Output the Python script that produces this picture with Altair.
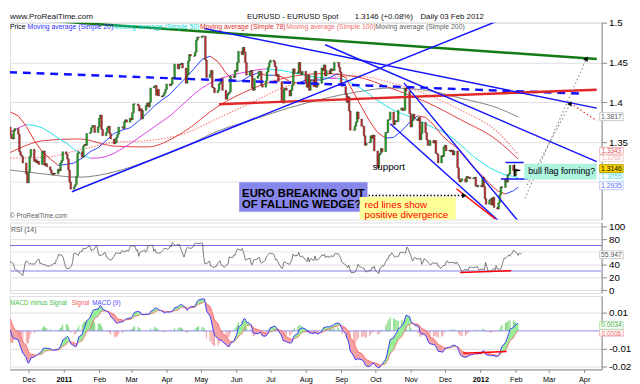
import altair as alt
import numpy as np
import pandas as pd

FONT = "Liberation Sans"

# ---------------- daily closes, Mon..Fri for each week ----------------
# weeks before the visible window (used only so the indicators are warmed up)
warmup_closes = [
    [1.2990, 1.3090, 1.3030, 1.3060, 1.3050],  # 2010-09-13
    [1.3070, 1.3240, 1.3370, 1.3310, 1.3490],
    [1.3470, 1.3570, 1.3620, 1.3630, 1.3790],
    [1.3680, 1.3830, 1.3920, 1.3930, 1.3950],
    [1.3910, 1.3930, 1.3960, 1.4090, 1.3960],
    [1.3960, 1.3740, 1.3950, 1.3950, 1.3960],
    [1.3920, 1.3840, 1.3790, 1.3920, 1.3940],
    [1.3930, 1.4020, 1.4100, 1.4190, 1.4030],
    [1.3910, 1.3800, 1.3780, 1.3740, 1.3690],
]
# weeks from 2010-11-15 to 2012-02-03
weekly_closes = [
    [1.3600, 1.3550, 1.3540, 1.3640, 1.3670],
    [1.3600, 1.3380, 1.3340, 1.3320, 1.3240],
    [1.3100, 1.2990, 1.3130, 1.3320, 1.3410],
    [1.3260, 1.3280, 1.3240, 1.3260, 1.3220],
    [1.3380, 1.3390, 1.3210, 1.3230, 1.3190],
    [1.3150, 1.3110, 1.3090, 1.3110, 1.3100],
    [1.3160, 1.3140, 1.3240, 1.3270, 1.3380],
    [1.3350, 1.3290, 1.3150, 1.3000, 1.2910],
    [1.2940, 1.2970, 1.3070, 1.3360, 1.3380],
    [1.3310, 1.3450, 1.3470, 1.3460, 1.3610],
    [1.3620, 1.3680, 1.3710, 1.3710, 1.3620],
    [1.3690, 1.3800, 1.3840, 1.3660, 1.3580],
    [1.3620, 1.3680, 1.3700, 1.3610, 1.3540],
    [1.3480, 1.3500, 1.3560, 1.3600, 1.3690],
    [1.3690, 1.3670, 1.3760, 1.3780, 1.3750],
    [1.3800, 1.3780, 1.3870, 1.3980, 1.3980],
    [1.3960, 1.3890, 1.3920, 1.3790, 1.3900],
    [1.3960, 1.3990, 1.3940, 1.4000, 1.4180],
    [1.4200, 1.4210, 1.4090, 1.4160, 1.4080],
    [1.4070, 1.4090, 1.4120, 1.4160, 1.4230],
    [1.4210, 1.4230, 1.4310, 1.4300, 1.4480],
    [1.4420, 1.4470, 1.4480, 1.4490, 1.4430],
    [1.4240, 1.4350, 1.4520, 1.4600, 1.4580],
    [1.4580, 1.4630, 1.4780, 1.4820, 1.4810],
    [1.4830, 1.4830, 1.4830, 1.4530, 1.4310],
    [1.4350, 1.4400, 1.4190, 1.4180, 1.4120],
    [1.4150, 1.4230, 1.4250, 1.4300, 1.4150],
    [1.4040, 1.4090, 1.4110, 1.4130, 1.4330],
    [1.4310, 1.4400, 1.4390, 1.4500, 1.4640],
    [1.4600, 1.4690, 1.4630, 1.4500, 1.4340],
    [1.4390, 1.4400, 1.4180, 1.4150, 1.4300],
    [1.4330, 1.4390, 1.4390, 1.4220, 1.4190],
    [1.4270, 1.4380, 1.4440, 1.4500, 1.4530],
    [1.4510, 1.4450, 1.4330, 1.4350, 1.4260],
    [1.4000, 1.3990, 1.4170, 1.4180, 1.4150],
    [1.4080, 1.4150, 1.4210, 1.4420, 1.4360],
    [1.4380, 1.4500, 1.4370, 1.4350, 1.4390],
    [1.4240, 1.4190, 1.4340, 1.4150, 1.4280],
    [1.4200, 1.4390, 1.4190, 1.4220, 1.4240],
    [1.4430, 1.4400, 1.4470, 1.4330, 1.4400],
    [1.4360, 1.4420, 1.4400, 1.4400, 1.4500],
    [1.4500, 1.4440, 1.4380, 1.4240, 1.4200],
    [1.4100, 1.4000, 1.4070, 1.3890, 1.3650],
    [1.3650, 1.3700, 1.3750, 1.3880, 1.3790],
    [1.3700, 1.3700, 1.3580, 1.3460, 1.3490],
    [1.3500, 1.3580, 1.3550, 1.3590, 1.3390],
    [1.3180, 1.3340, 1.3360, 1.3420, 1.3380],
    [1.3620, 1.3620, 1.3780, 1.3780, 1.3880],
    [1.3720, 1.3770, 1.3760, 1.3760, 1.3900],
    [1.3930, 1.3900, 1.3900, 1.4180, 1.4140],
    [1.3860, 1.3690, 1.3770, 1.3850, 1.3790],
    [1.3770, 1.3810, 1.3530, 1.3610, 1.3750],
    [1.3620, 1.3530, 1.3460, 1.3460, 1.3520],
    [1.3490, 1.3520, 1.3360, 1.3350, 1.3240],
    [1.3330, 1.3320, 1.3440, 1.3460, 1.3390],
    [1.3400, 1.3380, 1.3400, 1.3340, 1.3390],
    [1.3180, 1.3040, 1.3000, 1.3020, 1.3040],
    [1.3000, 1.3070, 1.3050, 1.3060, 1.3040],
    [1.3050, 1.3060, 1.2950, 1.2940, 1.2960],
    [1.2940, 1.3060, 1.2940, 1.2790, 1.2720],
    [1.2770, 1.2790, 1.2710, 1.2810, 1.2680],
    [1.2660, 1.2740, 1.2840, 1.2940, 1.2930],
    [1.3040, 1.3000, 1.3090, 1.3100, 1.3210],
    [1.3140, 1.3080, 1.3160, 1.3140, 1.3146],
]

# ---------------- moving averages (weekly, Mondays + last day) ----------------
sma20_weekly = [
    1.388, 1.383, 1.370, 1.352, 1.338, 1.329, 1.321, 1.322, 1.324, 1.330,
    1.338, 1.343, 1.352, 1.361, 1.365, 1.368, 1.376, 1.385, 1.395, 1.403,
    1.410, 1.421, 1.431, 1.442, 1.454, 1.458, 1.451, 1.437, 1.426, 1.427,
    1.433, 1.437, 1.434, 1.434, 1.432, 1.426, 1.424, 1.428, 1.428, 1.428,
    1.431, 1.436, 1.431, 1.412, 1.394, 1.376, 1.362, 1.355, 1.356, 1.364,
    1.375, 1.383, 1.381, 1.372, 1.359, 1.350, 1.342, 1.330, 1.318, 1.309,
    1.298, 1.289, 1.285, 1.289, 1.2935,
]
sma50_weekly = [
    1.363, 1.368, 1.372, 1.371, 1.368, 1.362, 1.355, 1.349, 1.341, 1.334,
    1.330, 1.330, 1.332, 1.336, 1.342, 1.348, 1.355, 1.362, 1.369, 1.376,
    1.383, 1.392, 1.401, 1.410, 1.418, 1.424, 1.429, 1.432, 1.435, 1.437,
    1.439, 1.441, 1.442, 1.441, 1.440, 1.438, 1.436, 1.434, 1.432, 1.431,
    1.430, 1.430, 1.428, 1.423, 1.417, 1.410, 1.402, 1.396, 1.390, 1.386,
    1.382, 1.378, 1.373, 1.368, 1.364, 1.358, 1.350, 1.341, 1.332, 1.325,
    1.318, 1.313, 1.309, 1.307, 1.3055,
]
# monthly readings of the slower averages
ma_month_dates = ["2010-11-15", "2010-12-15", "2011-01-14", "2011-02-15", "2011-03-15",
                  "2011-04-15", "2011-05-16", "2011-06-15", "2011-07-15", "2011-08-15",
                  "2011-09-15", "2011-10-14", "2011-11-15", "2011-12-15", "2012-01-16",
                  "2012-02-03"]
sma78_monthly = [1.337, 1.352, 1.354, 1.345, 1.344, 1.362, 1.395, 1.417, 1.431, 1.436,
                 1.432, 1.418, 1.400, 1.378, 1.352, 1.3288]
sma100_monthly = [1.330, 1.331, 1.340, 1.350, 1.352, 1.360, 1.380, 1.400, 1.420, 1.430,
                  1.433, 1.425, 1.410, 1.390, 1.363, 1.3343]
sma200_monthly = [1.315, 1.310, 1.306, 1.313, 1.326, 1.343, 1.364, 1.378, 1.392, 1.404,
                  1.413, 1.418, 1.415, 1.405, 1.393, 1.3817]

# ---------------- hand-drawn lines (date, price) ----------------
green_line = (["2010-12-13", "2012-04-12"], [1.5030, 1.4543])
dashed_line = (["2010-11-14", "2012-03-28"], [1.4378, 1.4110])
red_line = (["2011-05-17", "2012-04-12"], [1.3976, 1.4159])
rising_line = (["2011-01-08", "2012-01-19"], [1.2878, 1.5037])
peak_line = (["2011-05-04", "2012-04-12"], [1.4927, 1.3927])
steep_line = (["2011-08-18", "2012-04-12"], [1.4722, 1.3256])
wedge_upper = (["2011-10-26", "2012-02-03"], [1.4244, 1.2512])
wedge_lower = (["2011-10-14", "2012-01-17"], [1.3732, 1.2512])
wedge_red = (["2011-12-11", "2012-01-14"], [1.2915, 1.2537])
flag_top = (["2012-01-23", "2012-02-08"], [1.3244, 1.3244])
flag_bottom = (["2012-01-19", "2012-02-12"], [1.3037, 1.3037])
flag_pointer = (["2012-01-31", "2012-02-05"], [1.3146, 1.3146])
flag_bracket = (["2012-01-31", "2012-01-31"], [1.3220, 1.3073])
black_arrow = (["2011-09-16", "2011-12-18"], [1.2830, 1.2830])
gray_arrow1 = (["2012-02-09", "2012-04-03"], [1.2793, 1.4549])
gray_arrow2 = (["2012-02-11", "2012-03-20"], [1.2963, 1.3988])
red_dots = (["2012-03-20", "2012-04-12"], [1.3988, 1.3768])
rsi_red = (["2011-12-12", "2012-01-25"], [27.5, 30.5])
macd_red = (["2011-12-17", "2012-01-24"], [-0.0125, -0.0115])

month_ticks = [(2010, 12)] + [(2011, m) for m in range(1, 13)] + [(2012, m) for m in range(1, 5)]

# ---------------- tables ----------------
closes = [c for wk in warmup_closes + weekly_closes for c in wk]
dates = pd.bdate_range("2010-09-13", "2012-02-03")
assert len(dates) == len(closes)
px = pd.DataFrame({"date": dates.strftime("%Y-%m-%d"), "close": closes})
px["open"] = px["close"].shift(1)
px.loc[0, "open"] = px.loc[0, "close"]
px["dir"] = np.where(px["close"] >= px["open"], "up", "down")

# indicators derived from the closes
delta = px["close"].diff().fillna(0.0)
gain = delta.clip(lower=0).ewm(alpha=1 / 14, adjust=False).mean()
loss = (-delta.clip(upper=0)).ewm(alpha=1 / 14, adjust=False).mean()
px["rsi"] = (100 - 100 / (1 + gain / loss.replace(0, np.nan))).fillna(50)
ema12 = px["close"].ewm(span=12, adjust=False).mean()
ema26 = px["close"].ewm(span=26, adjust=False).mean()
px["macd"] = ema12 - ema26
px["signal"] = px["macd"].ewm(span=9, adjust=False).mean()
px["hist"] = px["macd"] - px["signal"]
px["hi"] = np.maximum(px["macd"], px["signal"])
px["lo"] = np.minimum(px["macd"], px["signal"])
px = px[px["date"] >= "2010-11-15"].reset_index(drop=True)

week_dates = list(pd.bdate_range("2010-11-15", "2012-02-03")[::5].strftime("%Y-%m-%d")) + ["2012-02-03"]
assert len(week_dates) == len(sma20_weekly) == len(sma50_weekly)


def seg_table(vals):
    rows = []
    for i in range(len(vals) - 1):
        d = "up" if vals[i + 1] >= vals[i] else "down"
        rows.append({"date": week_dates[i], "v": vals[i], "seg": i, "dir": d})
        rows.append({"date": week_dates[i + 1], "v": vals[i + 1], "seg": i, "dir": d})
    return pd.DataFrame(rows)


ma20 = seg_table(sma20_weekly)
ma50 = seg_table(sma50_weekly)
slow = pd.DataFrame({"date": ma_month_dates, "m78": sma78_monthly,
                     "m100": sma100_monthly, "m200": sma200_monthly})

ONE = pd.DataFrame({"k": [0]})

# ---------------- scales & axes ----------------
xscale = alt.Scale(type="utc", domain=[alt.DateTime(year=2010, month=11, date=19, utc=True),
                                       alt.DateTime(year=2012, month=4, date=12, utc=True)])
XN = alt.X("date:T", scale=xscale, axis=None)
x_axis = alt.Axis(
    values=[alt.DateTime(year=y, month=m, date=1, utc=True) for y, m in month_ticks],
    labelExpr="utcmonth(datum.value) == 0 ? utcFormat(datum.value, '%Y') : utcFormat(datum.value, '%b')",
    labelFontWeight={"condition": {"test": "utcmonth(datum.value) == 0", "value": "bold"}, "value": "normal"},
    labelOverlap=False, grid=False, tickSize=3, labelPadding=3, labelFontSize=7.5, title=None,
)
XB = alt.X("date:T", scale=xscale, axis=x_axis)

ys_p = alt.Scale(domain=[1.2529, 1.5], nice=False, zero=False)
ys_r = alt.Scale(domain=[-4.6, 106.2], nice=False, zero=False)
ys_m = alt.Scale(domain=[-0.02144, 0.01943], nice=False, zero=False)
price_axis = alt.Axis(orient="right", values=[1.35, 1.4, 1.45, 1.5], format=".2~f", grid=True, title=None)
rsi_axis = alt.Axis(orient="right", values=[0, 20, 40, 80, 100], format="d", grid=True, title=None)
macd_axis = alt.Axis(orient="right", values=[0.01, -0.01, -0.02], grid=True, title=None,
                     labelExpr="(datum.value < 0 ? '-' : '') + format(abs(datum.value), '.2f')")
W = 604


def YP(f):
    return alt.Y(f, scale=ys_p, axis=price_axis)


def YR(f):
    return alt.Y(f, scale=ys_r, axis=rsi_axis)


def YM(f):
    return alt.Y(f, scale=ys_m, axis=macd_axis)


def tline(spec, yfun=YP, xenc=XN, **kw):
    d = pd.DataFrame({"date": spec[0], "price": spec[1]})
    return alt.Chart(d).mark_line(clip=True, **kw).encode(x=xenc, y=yfun("price:Q"))


def arrow(date, price, shape, angle=0):
    d = pd.DataFrame({"date": [date], "price": [price]})
    return alt.Chart(d).mark_point(shape=shape, angle=angle, filled=True, size=28,
                                   color="#000000", opacity=1).encode(x=XN, y=YP("price:Q"))


def label(text, x, y, size=7.0, color="#000000", weight="normal", align="left"):
    return alt.Chart(ONE).mark_text(text=text, font=FONT, fontSize=size, color=color,
                                    fontWeight=weight, align=align, baseline="middle").encode(
        x=alt.value(x), y=alt.value(y))


def rect(x1, x2, y1, y2, fill, stroke="transparent", sw=1.0):
    return alt.Chart(ONE).mark_rect(fill=fill, stroke=stroke, strokeWidth=sw).encode(
        x=alt.value(x1), x2=alt.value(x2), y=alt.value(y1), y2=alt.value(y2))


def vbox(text, yc, color, fill="#ffffff", border="#c8c8c8", h=4.0, size=7.0):
    return [rect(602, 626, yc - h, yc + h, fill, border), label(text, 614, yc, size, color, align="center")]


# ---------------- header ----------------
header = alt.layer(
    label("www.ProRealTime.com", 0, 3.5, 8.2, "#111111"),
    label("EURUSD - EURUSD Spot", 242, 3.5, 8, "#111111"),
    label("1.3146 (+0.08%)", 352, 3.5, 8, "#111111"),
    label("Daily  03 Feb 2012", 419, 3.5, 8, "#111111"),
).properties(width=W, height=6, view=alt.ViewBackground(stroke="transparent"))

# ---------------- price panel ----------------
grid13 = alt.Chart(ONE).mark_rule(color="#e4e4e4").encode(y=alt.YDatum(1.3, scale=ys_p, axis=price_axis))

candles_up = alt.Chart(px).transform_filter(alt.datum.dir == "up").mark_bar(
    size=1.8, color="#1faa1f", stroke="#1a1a1a", strokeWidth=0.35, clip=True).encode(
    x=XN, y=YP("open:Q"), y2="close:Q")
candles_dn = alt.Chart(px).transform_filter(alt.datum.dir == "down").mark_bar(
    size=1.8, color="#c83030", stroke="#1a1a1a", strokeWidth=0.35, clip=True).encode(
    x=XN, y=YP("open:Q"), y2="close:Q")

m200 = alt.Chart(slow).mark_line(color="#808080", strokeWidth=1, interpolate="monotone", clip=True).encode(x=XN, y=YP("m200:Q"))
m78 = alt.Chart(slow).mark_line(color="#e03a3a", strokeWidth=1, interpolate="monotone", clip=True).encode(x=XN, y=YP("m78:Q"))
m100 = alt.Chart(slow).mark_line(color="#ff8080", strokeWidth=1.2, strokeDash=[1.5, 1.5], interpolate="monotone", clip=True).encode(x=XN, y=YP("m100:Q"))


def ma_dir(tbl, direction, color):
    return alt.Chart(tbl).transform_filter(alt.datum.dir == direction).mark_line(
        color=color, strokeWidth=1, clip=True).encode(x=XN, y=YP("v:Q"), detail="seg:N")


price_layers = [
    grid13, m200, m100, m78,
    ma_dir(ma50, "up", "#e040e0"), ma_dir(ma50, "down", "#20e0e8"),
    ma_dir(ma20, "up", "#2040ff"), ma_dir(ma20, "down", "#e03030"),
    candles_up, candles_dn,
    tline(dashed_line, color="#1010ff", strokeWidth=2.5, strokeDash=[8, 6]),
    tline(red_line, color="#e02828", strokeWidth=2.5),
    tline(green_line, color="#147a14", strokeWidth=2.5),
    tline(rising_line, color="#1515ff", strokeWidth=1.5),
    tline(peak_line, color="#1515ff", strokeWidth=1.5),
    tline(steep_line, color="#1515ff", strokeWidth=1.5),
    tline(wedge_upper, color="#1515ff", strokeWidth=1.5),
    tline(wedge_lower, color="#1515ff", strokeWidth=1.5),
    tline(wedge_red, color="#ff1010", strokeWidth=1.5),
    tline(flag_top, color="#1515ff", strokeWidth=1.5),
    tline(flag_bottom, color="#1515ff", strokeWidth=1.5),
    tline(flag_pointer, color="#000000", strokeWidth=1.2),
    tline(flag_bracket, color="#000000", strokeWidth=1.2),
    tline(black_arrow, color="#000000", strokeWidth=1.5, strokeDash=[1.5, 2]),
    tline(gray_arrow1, color="#909090", strokeWidth=1.2, strokeDash=[1.5, 2.5]),
    tline(gray_arrow2, color="#909090", strokeWidth=1.2, strokeDash=[1.5, 2.5]),
    tline(red_dots, color="#ff2020", strokeWidth=1.2, strokeDash=[1.5, 2.5]),
    arrow(black_arrow[0][1], black_arrow[1][1], "triangle-right"),
    arrow(gray_arrow1[0][1], gray_arrow1[1][1], "triangle-up", 24),
    arrow(gray_arrow2[0][1], gray_arrow2[1][1], "triangle-up", 28),
    # legend
    label("Price", 0, 4.5, 7, "#000000"),
    label("Moving average (Simple 20)", 18, 4.5, 7, "#3030ff"),
    label("Moving average (Simple 50)", 106, 4.5, 7, "#10d8d8"),
    label("Moving average (Simple 78)", 194, 4.5, 7, "#e03030"),
    label("Moving average (Simple 100)", 282, 4.5, 7, "#f07070"),
    label("Moving average (Simple 200)", 373, 4.5, 7, "#606060"),
    label("\u00a9 ProRealTime.com", 0, 197.5, 6.5, "#606060"),
    # annotations
    label("support", 370, 147, 10, "#000000"),
    rect(234, 365, 163, 193, "#8787eb"),
    label("EURO BREAKING OUT", 237, 174.7, 11.5, "#000000", "bold"),
    label("OF FALLING WEDGE?", 237, 186.3, 11.5, "#000000", "bold"),
    rect(357, 455, 178, 201, "#ffff99"),
    label("red lines show", 362, 186.5, 10, "#ff0000"),
    label("positive divergence", 362, 196.5, 10, "#ff0000"),
    rect(525, 599, 144, 160, "#aef2e0"),
    label("bull flag forming?", 529, 152, 9, "#000000"),
]
price_layers += vbox("1.3817", 96, "#606060")
price_layers += vbox("1.3288", 138.6, "#f4b8b8", border="#f4d0d0", h=3.3, size=6.5)
price_layers += vbox("1.3343", 130.8, "#e05050", border="#f0b0b0", h=3.4, size=6.5)
price_layers += vbox("1.3146", 149, "#000000", fill="#ffd700", border="#b0a000")
price_layers += vbox("1.3055", 158, "#40d8e0", border="#c0f0f0")
price_layers += vbox("1.2935", 166.5, "#6070ff", border="#c0c8ff")

price = alt.layer(*price_layers).properties(width=W, height=201)

# ---------------- RSI panel ----------------
rsi_layers = [
    alt.Chart(ONE).mark_rule(color="#e4e4e4").encode(y=alt.YDatum(60, scale=ys_r, axis=rsi_axis)),
    alt.Chart(ONE).mark_rule(color="#c0c0f2", strokeWidth=2).encode(y=alt.YDatum(30, scale=ys_r, axis=rsi_axis)),
    alt.Chart(ONE).mark_rule(color="#6a6ae0", strokeWidth=1).encode(y=alt.YDatum(70, scale=ys_r, axis=rsi_axis)),
    alt.Chart(px).mark_line(color="#5a5a5a", strokeWidth=0.8, clip=True).encode(x=XN, y=YR("rsi:Q")),
    tline(rsi_red, yfun=YR, color="#ff0000", strokeWidth=1.5),
    label("RSI (14)", 1, 8, 7, "#555555"),
    rect(602, 626, 29, 37, "#ffffff", "#c8c8c8"),
    label("55.947", 614, 33, 7, "#555555", align="center"),
]
rsi = alt.layer(*rsi_layers).properties(width=W, height=72)

# ---------------- MACD panel ----------------
macd_layers = [
    alt.Chart(px).mark_bar(size=1, color="#7cd87c", clip=True).transform_filter(alt.datum.hist >= 0).encode(
        x=XB, y=YM("hist:Q"), y2=alt.Y2Datum(0)),
    alt.Chart(px).mark_bar(size=1, color="#f3a3a3", clip=True).transform_filter(alt.datum.hist < 0).encode(
        x=XB, y=YM("hist:Q"), y2=alt.Y2Datum(0)),
    alt.Chart(ONE).mark_rule(color="#8a8af0", strokeWidth=1).encode(y=alt.YDatum(0, scale=ys_m, axis=macd_axis)),
    alt.Chart(px).mark_area(color="#98ec98", clip=True).encode(x=XB, y=YM("hi:Q"), y2="signal:Q"),
    alt.Chart(px).mark_area(color="#f2a2a2", clip=True).encode(x=XB, y=YM("signal:Q"), y2="lo:Q"),
    alt.Chart(px).mark_line(color="#ff5a5a", strokeWidth=0.8, clip=True).encode(x=XB, y=YM("signal:Q")),
    alt.Chart(px).mark_line(color="#3a3aff", strokeWidth=1, clip=True).encode(x=XB, y=YM("macd:Q")),
    tline(macd_red, yfun=YM, xenc=XB, color="#ff0000", strokeWidth=1.5),
    label("MACD minus Signal", 0, 7, 6.5, "#4cc04c"),
    label("Signal", 63, 7, 6.5, "#f06060"),
    label("MACD (9)", 84, 7, 6.5, "#4a4aff"),
    rect(602, 626, 34.5, 41, "#ffffff", "#f0b0b0"),
    label("0.0006", 614, 38.5, 6.5, "#f06060", align="center"),
    rect(602, 626, 26, 34, "#ffffff", "#b0e0b0"),
    label("0.0034", 614, 30, 7, "#40b040", align="center"),
]
macd = alt.layer(*macd_layers).properties(width=W, height=75)

chart = alt.VConcatChart(
    vconcat=[header, price, rsi, macd], spacing=3, bounds="flush",
    padding={"left": 0, "top": 0, "right": 0, "bottom": 0},
).configure_view(stroke="#9a9a9a").configure_axis(
    labelFont=FONT, labelFontSize=7.5, labelColor="#333333", tickColor="#777777", tickSize=4,
    domain=False, gridColor="#e4e4e4", labelPadding=2,
).configure(background="#ffffff")

chart.save("out.html", embed_options={"renderer": "svg", "actions": False})
